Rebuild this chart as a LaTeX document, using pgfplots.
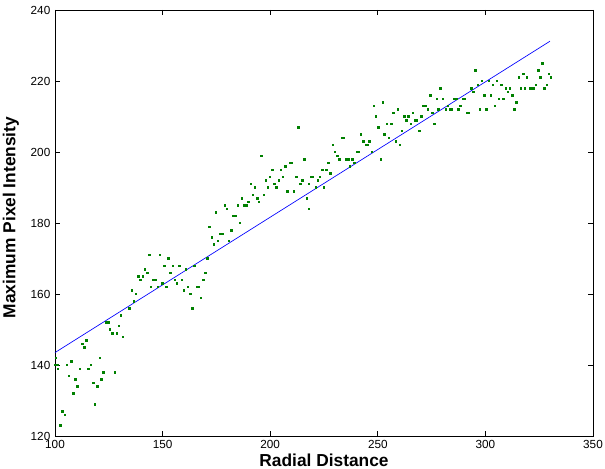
\documentclass[border=0pt]{standalone}
\usepackage{fontspec}
\setmainfont{Liberation Sans}
\usepackage{pgfplots}
\pgfplotsset{compat=1.18}
\definecolor{mgreen}{rgb}{0,0.5,0}
\pgfplotstableread{
x y
100.3 142
100 140
101 140
101.4 139
102.5 123
103.4 127
104.5 126
105.4 140
106.5 137
107.5 141
108.5 132
109.5 136
110.4 134
111.5 139
112.6 146
113.5 145
114.5 147
115.5 139
116.5 140
117.7 135
118.5 129
119.6 134
120.7 142
121.6 136
122.4 138
123.9 152
124.7 152
125.5 150
126.6 149
127.7 138
128.6 149
129.7 151
130.6 154
131.6 148
134.5 156
135.6 161
136.7 158
137.6 160
138.7 165
139.6 164
140.7 165
141.7 167
142.8 166
143.7 171
144.6 162
145.7 164
146.8 164
147.7 162
148.6 171
149.8 163
150.7 168
151.8 162
152.7 170
153.6 166
154.7 168
155.6 164
156.7 163
157.7 168
158.8 164
159.8 161
160.8 167
161.7 162
162.8 160
163.7 156
164.8 168
165.8 162
166.8 162
167.8 159
168.8 164
169.8 166
170.7 170
171.7 179
172.9 176
173.8 174
174.8 183
175.7 175
176.8 177
177.9 177
178.8 185
179.9 184
180.8 175
181.8 178
182.9 182
184 182
184.9 185
185.8 180
186.9 187
187.8 185
188.9 185
189.9 186
190.9 191
191.9 188
192.9 190
193.9 187
194.8 186
195.9 199
196.9 188
197.9 192
198.9 190
199.9 193
200.9 195
201.8 191
202.9 190
203.9 192
204.9 195
205.8 193
207.1 196
207.9 189
209 197
209.9 197
211 189
212.1 193
213 207
214 191
214.9 192
215.8 198
216.9 187
218 191
218 184
218.9 193
219.9 193
221.1 190
222 192
223 193
224.1 195
225 190
226.1 195
227 197
228 194
229.1 202
230 200
231.1 199
232.1 198
233.2 204
234.1 204
235.1 198
236.2 198
236.9 196
238.2 198
239.1 197
240.2 200
241.2 200
242.1 205
243.2 203
244.4 202
245.2 202
246.1 203
247.2 200
248.2 213
249.1 210
250.2 207
251.3 198
252.2 214
253.1 205
254.2 208
255.1 204
256.2 208
257.2 211
258.3 203
259.2 212
260.3 202
261.2 206
262.3 210
263.2 209
264.2 210
265.3 208
266.2 211
267.3 209
268.2 209
269.3 206
270.2 210
270.9 213
272 213
273.2 212
274.3 216
275.4 211
276.3 208
277.4 215
278.2 212
279.1 218
280.3 215
281.6 212
282.4 213
283.5 212
284.4 212
285.5 215
286.4 215
287.3 212
288.3 213
289.4 215
290.3 215
291.4 211
292.3 211
293.4 218
294.3 217
295.3 223
296.4 219
297.3 212
298.4 220
299.4 216
300.4 212
301.5 220
302.4 216
303.4 219
304.4 213
305.4 220
306.3 215
307.4 219
308.3 215
309.4 218
310.4 217
311.3 218
312.4 216
313.5 212
314.4 214
315.5 221
316.4 218
317.5 222
318.4 218
319.3 221
320.5 218
321.4 218
322.3 218
323.4 219
324.5 223
325.4 221
326.5 225
327.4 218
328.4 219
329.5 222
330.4 221
}\pixels

\begin{document}
\begin{tikzpicture}
\begin{axis}[
    scale only axis,
    width=403.5pt, height=319.5pt,
    xmin=100, xmax=350, ymin=120, ymax=240,
    xtick={100,150,...,350},
    ytick={120,140,...,240},
    tick align=inside,
    major tick length=4pt,
    axis line style={line width=0.6pt},
    tick style={line width=0.5pt, black},
    ticklabel style={font=\fontsize{8.8}{10}\selectfont},
    /pgf/number format/assume math mode=true,
    xlabel={\textbf{Radial Distance}},
    ylabel={\textbf{Maximum Pixel Intensity}},
    label style={font=\fontsize{13}{15}\selectfont},
    xlabel style={at={(axis description cs:0.5,-0.072)}, anchor=base},
    ylabel style={at={(axis description cs:-0.058,0.513)}, anchor=south},
    clip=false,
]
\addplot[only marks, mark=square*, mark size=0.55pt, mgreen] table {\pixels};
\addplot[blue, line width=0.5pt] coordinates {(100,143.5) (330,231.2)};
\coordinate (ll) at (rel axis cs:0,0);
\coordinate (ur) at (rel axis cs:1,1);
\end{axis}
\pgfresetboundingbox
\path[use as bounding box] ([xshift=-41.25pt,yshift=-24.75pt]ll) rectangle ([xshift=9pt,yshift=7.5pt]ur);
\end{tikzpicture}
\end{document}
